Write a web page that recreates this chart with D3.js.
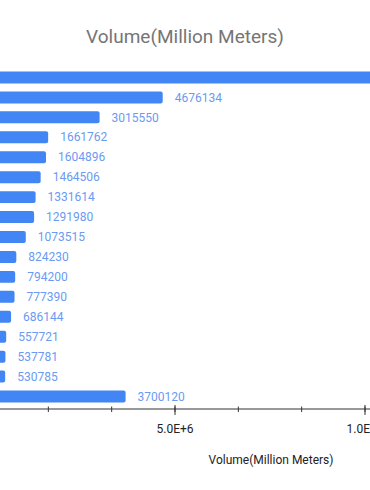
<!DOCTYPE html>
<html>
<head>
<meta charset="utf-8">
<script src="https://cdn.jsdelivr.net/npm/d3@7"></script>
<style>
  body { margin: 0; background: #fff; overflow: hidden; }
  svg { display: block; font-family: Roboto, sans-serif; }
</style>
</head>
<body>
<svg></svg>
<script>
// Size of the visible window
var width = 370,
    height = 490

// Category names are cut off on the left side of the picture
var categories = ["Item 1", "Item 2", "Item 3", "Item 4", "Item 5", "Item 6",
    "Item 7", "Item 8", "Item 9", "Item 10", "Item 11", "Item 12", "Item 13",
    "Item 14", "Item 15", "Item 16", "Item 17"]

// Volume values (the first bar runs past the right edge, estimated)
var volumes = [11500000, 4676134, 3015550, 1661762, 1604896, 1464506, 1331614,
    1291980, 1073515, 824230, 794200, 777390, 686144, 557721, 537781, 530785,
    3700120]

// Labelled ticks that fall inside the window
var majorTicks = [5e6, 1e7]

var data = categories.map(function(c, i) {
    return {name: c, value: volumes[i]}
})

var svg = d3.select("svg")
    .attr("width", width)
    .attr("height", height)

// x scale: zero sits a little off the left edge
var x = d3.scaleLinear()
    .domain([0, 1.5e7])
    .range([-15, 555])

var y = d3.scaleBand()
    .domain(categories)
    .range([67.5, 406.5])
    .paddingInner(0.4)
    .paddingOuter(0.2)

// Title
svg.append("text")
    .attr("x", 185)
    .attr("y", 43)
    .attr("text-anchor", "middle")
    .style("font-size", "19px")
    .style("fill", "#757575")
    .text("Volume(Million Meters)")

// Bars
svg.selectAll("rect.bar")
    .data(data)
    .enter()
    .append("rect")
    .attr("class", "bar")
    .attr("x", x(0))
    .attr("y", function(d) { return y(d.name) })
    .attr("width", function(d) { return x(d.value) - x(0) })
    .attr("height", y.bandwidth())
    .attr("rx", 2)
    .style("fill", "#4285f4")

// Value labels
svg.selectAll("text.val")
    .data(data)
    .enter()
    .append("text")
    .attr("class", "val")
    .attr("x", function(d) { return x(d.value) + 12 })
    .attr("y", function(d) { return y(d.name) + y.bandwidth() / 2 })
    .attr("dy", "0.35em")
    .style("font-size", "12px")
    .style("fill", "#6b9af2")
    .text(function(d) { return d.value })

// Minor ticks every third of a major step
var minorTicks = d3.range(0, 1.5e7 + 1, 5e6 / 3)

var axisY = 409

var xAxis = svg.append("g")
    .attr("transform", "translate(0," + axisY + ")")

xAxis.append("line")
    .attr("x1", x(0))
    .attr("x2", x(1.5e7))
    .style("stroke", "#333")

xAxis.selectAll("line.minor")
    .data(minorTicks)
    .enter()
    .append("line")
    .attr("class", "minor")
    .attr("x1", x)
    .attr("x2", x)
    .attr("y1", -2.5)
    .attr("y2", 3)
    .style("stroke", "#333")

xAxis.selectAll("line.major")
    .data([0].concat(majorTicks))
    .enter()
    .append("line")
    .attr("class", "major")
    .attr("x1", x)
    .attr("x2", x)
    .attr("y1", -4)
    .attr("y2", 6)
    .style("stroke", "#333")

xAxis.selectAll("text")
    .data(majorTicks)
    .enter()
    .append("text")
    .attr("x", x)
    .attr("y", 24)
    .attr("text-anchor", "middle")
    .style("font-size", "12px")
    .style("fill", "#222")
    .text(function(d) { return d3.format(".1e")(d).replace("e", "E").toUpperCase() })

// Axis title
svg.append("text")
    .attr("x", 271)
    .attr("y", 464)
    .attr("text-anchor", "middle")
    .style("font-size", "12px")
    .style("fill", "#222")
    .text("Volume(Million Meters)")
</script>
</body>
</html>
